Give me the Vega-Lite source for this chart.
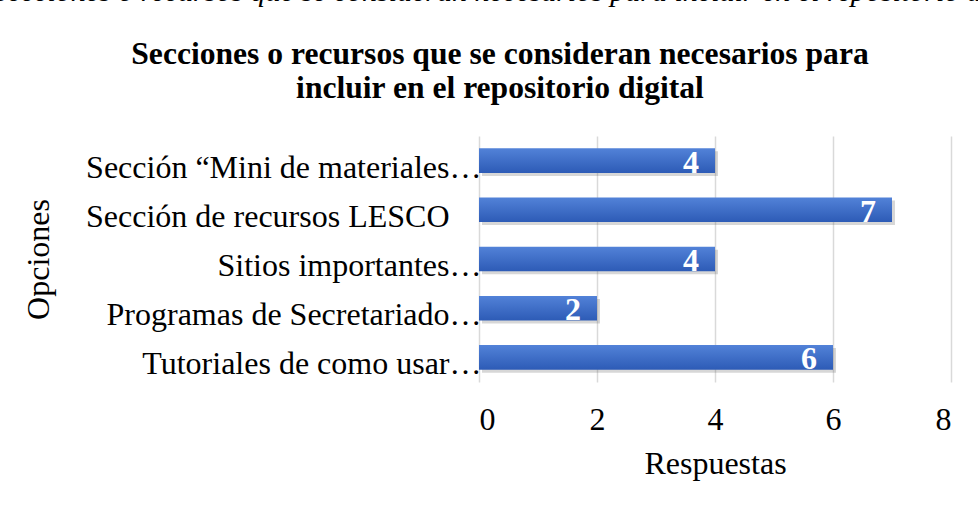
{
  "$schema": "https://vega.github.io/schema/vega-lite/v6.json",
  "autosize": {"type": "none"},
  "width": 472,
  "height": 246,
  "padding": {"left": 479, "top": 136, "right": 27, "bottom": 126},
  "background": "white",
  "title": {
    "text": "\u200b\u00a0\u00a0\u00a0\u00a0\u00a0Secciones o recursos que se consideran necesarios para incluir en el repositorio digital",
    "subtitle": ["Secciones o recursos que se consideran necesarios para", "incluir en el repositorio digital"],
    "anchor": "middle",
    "frame": "group",
    "dx": -215,
    "font": "Liberation Serif",
    "fontSize": 30,
    "fontStyle": "italic",
    "fontWeight": "normal",
    "color": "black",
    "subtitleFont": "Liberation Serif",
    "subtitleFontSize": 31.6,
    "subtitleFontWeight": "bold",
    "subtitleColor": "black",
    "subtitleLineHeight": 34,
    "subtitlePadding": 32,
    "offset": 31
  },
  "data": {
    "values": [
      {"opcion": "Sección “Mini de materiales…", "respuestas": 4},
      {"opcion": "Sección de recursos LESCO\u00a0\u00a0\u00a0\u00a0\u200b", "respuestas": 7},
      {"opcion": "Sitios importantes…", "respuestas": 4},
      {"opcion": "Programas de Secretariado…", "respuestas": 2},
      {"opcion": "Tutoriales de como usar…", "respuestas": 6}
    ]
  },
  "encoding": {
    "y": {
      "field": "opcion",
      "type": "nominal",
      "sort": null,
      "scale": {"paddingInner": 0.5, "paddingOuter": 0.25},
      "title": "Opciones",
      "axis": {
        "domain": false,
        "ticks": false,
        "labelPadding": -2,
        "labelOffset": 7,
        "labelLimit": 0,
        "labelFont": "Liberation Serif",
        "labelFontSize": 32,
        "labelColor": "black",
        "titleFont": "Liberation Serif",
        "titleFontSize": 32,
        "titleFontWeight": "normal",
        "titleColor": "black",
        "titleAngle": -90,
        "titleAlign": "center",
        "titleBaseline": "middle",
        "titleX": -441,
        "titleY": 123
      }
    },
    "x": {
      "field": "respuestas",
      "type": "quantitative",
      "scale": {"domain": [0, 8]},
      "title": "Respuestas",
      "axis": {
        "values": [0, 2, 4, 6, 8],
        "domain": false,
        "ticks": false,
        "grid": true,
        "gridColor": "#d9d9d9",
        "gridWidth": 1.5,
        "labelPadding": 22,
        "labelFont": "Liberation Serif",
        "labelFontSize": 32,
        "labelColor": "black",
        "titleFont": "Liberation Serif",
        "titleFontSize": 32,
        "titleFontWeight": "normal",
        "titleColor": "black",
        "titlePadding": 13
      }
    }
  },
  "layer": [
    {"mark": {"type": "bar", "color": "#606060", "opacity": 0.25, "xOffset": 3, "yOffset": 3}},
    {"mark": {"type": "bar", "color": {"gradient": "linear", "x1": 0, "y1": 0, "x2": 0, "y2": 1, "stops": [{"offset": 0, "color": "#5282d8"}, {"offset": 1, "color": "#2d5bb6"}]}}},
    {
      "mark": {"type": "text", "align": "right", "baseline": "middle", "dx": -16, "dy": 2, "font": "Liberation Serif", "fontSize": 32, "fontWeight": "bold", "color": "white"},
      "encoding": {"text": {"field": "respuestas", "type": "quantitative"}}
    }
  ],
  "config": {"view": {"stroke": null}}
}
